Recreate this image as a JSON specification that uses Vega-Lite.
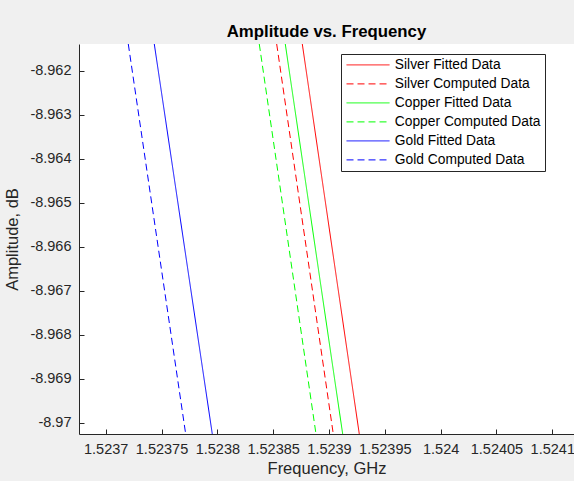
{
  "$schema": "https://vega.github.io/schema/vega-lite/v6.json",
  "autosize": {"type": "none"},
  "padding": {"left": 79, "top": 44, "right": 0, "bottom": 47},
  "width": 495,
  "height": 390,
  "background": "#f0f0f0",
  "title": {
    "text": "Amplitude vs. Frequency",
    "font": "Liberation Sans",
    "fontSize": 16.8,
    "fontWeight": "bold",
    "color": "#000000",
    "anchor": "middle",
    "offset": 3
  },
  "data": {
    "values": [
      {"series": "Silver Fitted Data", "freq": 1.52387609, "amp": -8.961393},
      {"series": "Silver Fitted Data", "freq": 1.52392714, "amp": -8.970257},
      {"series": "Silver Computed Data", "freq": 1.52385316, "amp": -8.961393},
      {"series": "Silver Computed Data", "freq": 1.52390385, "amp": -8.970257},
      {"series": "Copper Fitted Data", "freq": 1.52386086, "amp": -8.961393},
      {"series": "Copper Fitted Data", "freq": 1.52391227, "amp": -8.970257},
      {"series": "Copper Computed Data", "freq": 1.52383757, "amp": -8.961393},
      {"series": "Copper Computed Data", "freq": 1.52388836, "amp": -8.970257},
      {"series": "Gold Fitted Data", "freq": 1.52374353, "amp": -8.961393},
      {"series": "Gold Fitted Data", "freq": 1.52379548, "amp": -8.970257},
      {"series": "Gold Computed Data", "freq": 1.52372024, "amp": -8.961393},
      {"series": "Gold Computed Data", "freq": 1.52377165, "amp": -8.970257}
    ]
  },
  "mark": {"type": "line", "strokeWidth": 1, "clip": true},
  "encoding": {
    "x": {
      "field": "freq",
      "type": "quantitative",
      "title": "Frequency, GHz",
      "scale": {"domain": [1.5236761, 1.52411945], "nice": false, "zero": false},
      "axis": {
        "values": [1.5237, 1.52375, 1.5238, 1.52385, 1.5239, 1.52395, 1.524, 1.52405, 1.5241],
        "format": ".5~f",
        "labelPadding": 13,
        "titlePadding": 5
      }
    },
    "y": {
      "field": "amp",
      "type": "quantitative",
      "title": "Amplitude, dB",
      "scale": {"domain": [-8.970257, -8.961393], "nice": false, "zero": false},
      "axis": {
        "values": [-8.962, -8.963, -8.964, -8.965, -8.966, -8.967, -8.968, -8.969, -8.97],
        "labelExpr": "'-' + format(abs(datum.value), '.3~f')",
        "labelPadding": 13,
        "titlePadding": 9
      }
    },
    "color": {
      "field": "series",
      "type": "nominal",
      "scale": {
        "domain": ["Silver Fitted Data", "Silver Computed Data", "Copper Fitted Data", "Copper Computed Data", "Gold Fitted Data", "Gold Computed Data"],
        "range": ["#ff0000", "#ff0000", "#00ff00", "#00ff00", "#0000ff", "#0000ff"]
      },
      "legend": {
        "title": null,
        "orient": "none",
        "legendX": 262,
        "legendY": 10
      }
    },
    "strokeDash": {
      "field": "series",
      "type": "nominal",
      "scale": {
        "domain": ["Silver Fitted Data", "Silver Computed Data", "Copper Fitted Data", "Copper Computed Data", "Gold Fitted Data", "Gold Computed Data"],
        "range": [[1, 0], [7, 4], [1, 0], [7, 4], [1, 0], [7, 4]]
      },
      "legend": {
        "title": null,
        "orient": "none",
        "legendX": 262,
        "legendY": 10
      }
    }
  },
  "config": {
    "view": {"stroke": null, "fill": "#ffffff"},
    "axis": {
      "grid": false,
      "domainColor": "#262626",
      "tickColor": "#262626",
      "tickSize": -5,
      "labelColor": "#262626",
      "labelFont": "Liberation Sans",
      "labelFontSize": 14.5,
      "titleFont": "Liberation Sans",
      "titleFontSize": 16.5,
      "titleFontWeight": "normal",
      "titleColor": "#262626"
    },
    "legend": {
      "symbolType": "M-1,0H7",
      "symbolSize": 115.6,
      "symbolStrokeWidth": 1,
      "labelFont": "Liberation Sans",
      "labelFontSize": 13.8,
      "labelColor": "#000000",
      "labelLimit": 300,
      "fillColor": "#ffffff",
      "strokeColor": "#262626",
      "padding": 4,
      "rowPadding": 4,
      "labelOffset": 36
    }
  }
}
